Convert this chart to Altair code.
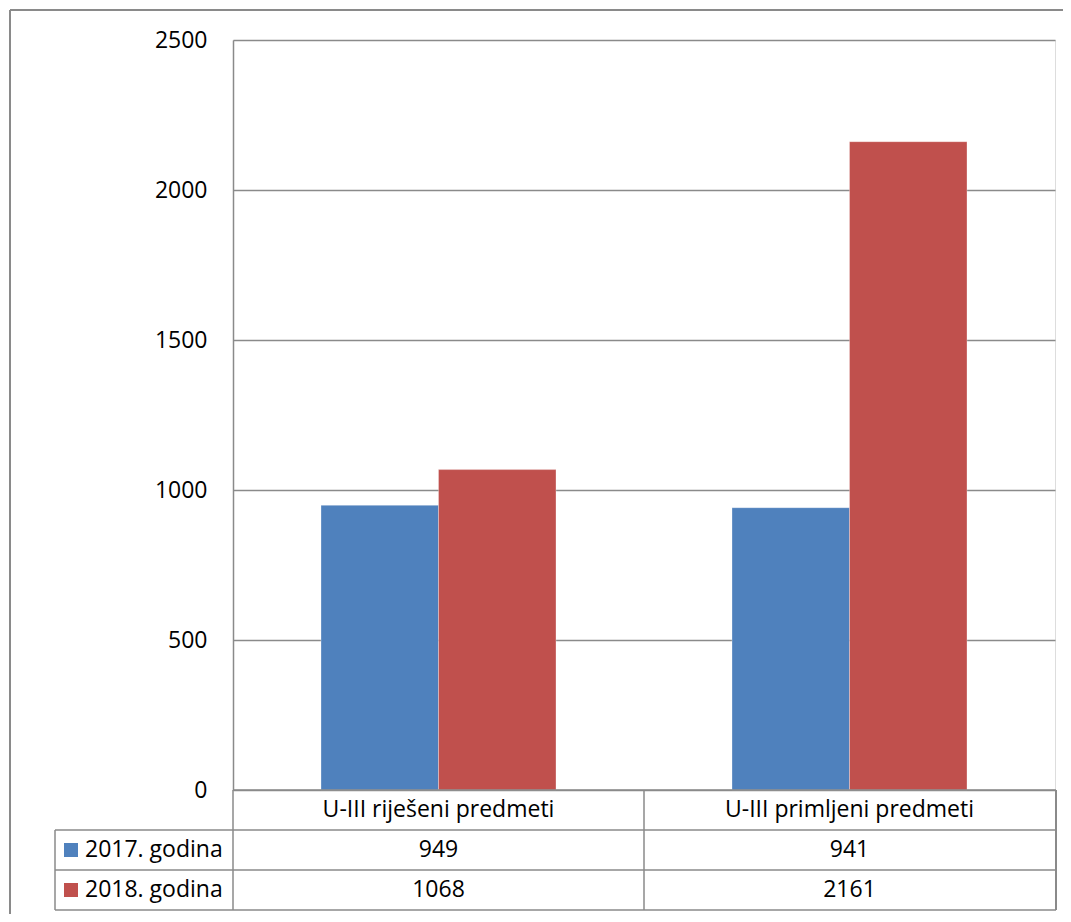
import altair as alt
import pandas as pd

categories = ["U-III riješeni predmeti", "U-III primljeni predmeti"]
years = ["2017. godina", "2018. godina"]
values_2017 = [949, 941]
values_2018 = [1068, 2161]
y_ticks = [0, 500, 1000, 1500, 2000, 2500]
colors = ["#4F81BD", "#C0504D"]

FONT = "Open Sans"
FS = 23
GRAY = "#8a8a8a"

rows = []
for c, v in zip(categories, values_2017):
    rows.append({"category": c, "year": years[0], "value": v})
for c, v in zip(categories, values_2018):
    rows.append({"category": c, "year": years[1], "value": v})
df = pd.DataFrame(rows)

xscale = alt.Scale(domain=categories, paddingInner=0, paddingOuter=0)
yscale = alt.Scale(domain=[0, 2500], nice=False)
cscale = alt.Scale(domain=years, range=colors)

bars = alt.Chart(df).mark_bar(stroke="white", strokeWidth=0.5, strokeOpacity=0.6).encode(
    x=alt.X("category:N", scale=xscale, axis=None, sort=categories),
    xOffset=alt.XOffset("year:N", scale=alt.Scale(domain=years, paddingInner=0, paddingOuter=0.749)),
    y=alt.Y("value:Q", scale=yscale,
            axis=alt.Axis(values=y_ticks, format="d", title=None, grid=True, gridColor=GRAY, gridWidth=1.5,
                          domain=True, domainColor=GRAY, domainWidth=1.5, ticks=False,
                          labelPadding=26, labelFont=FONT, labelFontSize=FS, labelColor="black")),
    color=alt.Color("year:N", scale=cscale, legend=None),
)

dummy = pd.DataFrame({"d": [0]})

def hrule(x1, x2, y, w=1.5):
    return alt.Chart(dummy).mark_rule(color=GRAY, strokeWidth=w).encode(
        x=alt.value(x1), x2=alt.value(x2), y=alt.value(y))

def vrule(x, y1, y2, w=1.5):
    return alt.Chart(dummy).mark_rule(color=GRAY, strokeWidth=w).encode(
        x=alt.value(x), y=alt.value(y1), y2=alt.value(y2))

lines = [
    # outer frame
    hrule(-223, 840, -30, 2),
    vrule(-223, -30, 900, 2),
    # table
    hrule(0, 823, 750),
    hrule(-178, 823, 790),
    hrule(-178, 823, 830),
    hrule(-178, 823, 870),
    vrule(0, 750, 870),
    vrule(-178, 790, 870),
    vrule(411, 750, 870),
    vrule(823, 750, 870, 2),
]

cat_labels = alt.Chart(pd.DataFrame({"category": categories})).mark_text(
    font=FONT, fontSize=FS, color="black", baseline="middle").encode(
    x=alt.X("category:N", scale=xscale, sort=categories), y=alt.value(770), text="category:N")

val_layers = []
for yr, ypos in zip(years, [810, 850]):
    val_layers.append(
        alt.Chart(df).transform_filter(alt.datum.year == yr).mark_text(
            font=FONT, fontSize=FS, color="black", baseline="middle").encode(
            x=alt.X("category:N", scale=xscale, sort=categories), y=alt.value(ypos), text="value:Q")
    )

legend_rows = []
for yr, ypos in zip(years, [810, 850]):
    d = pd.DataFrame({"year": [yr]})
    legend_rows.append(alt.Chart(d).mark_square(size=196, opacity=1).encode(
        x=alt.value(-162), y=alt.value(ypos), color=alt.Color("year:N", scale=cscale, legend=None)))
    legend_rows.append(alt.Chart(d).mark_text(
        font=FONT, fontSize=FS, color="black", align="left", baseline="middle").encode(
        x=alt.value(-148), y=alt.value(ypos), text="year:N"))

chart = alt.layer(bars, *lines, cat_labels, *val_layers, *legend_rows).properties(
    width=822, height=750,
    autosize=alt.AutoSizeParams(type="none"),
    padding={"left": 225, "top": 32, "right": 8, "bottom": 124},
).configure_view(stroke=None).configure(background="white")

chart.save("out.html", embed_options={"renderer": "svg", "actions": False})
